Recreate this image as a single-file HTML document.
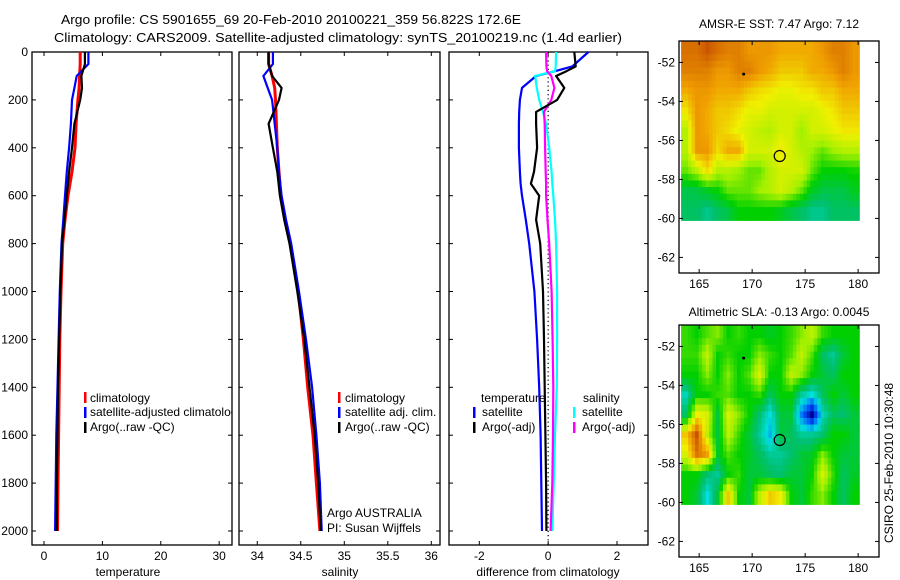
<!DOCTYPE html>
<html><head><meta charset="utf-8">
<style>
html,body{margin:0;padding:0;background:#fff;}
svg{display:block;font-family:"Liberation Sans",sans-serif;}
</style></head>
<body>
<svg id="fig" width="900" height="580" viewBox="0 0 900 580">
<defs><clipPath id="clipT"><rect x="32" y="0" width="200" height="580"/></clipPath></defs>
<text x="61" y="24" font-size="13" textLength="460" lengthAdjust="spacingAndGlyphs">Argo profile: CS 5901655_69 20-Feb-2010 20100221_359 56.822S 172.6E</text>
<text x="54" y="42" font-size="13" textLength="568" lengthAdjust="spacingAndGlyphs">Climatology: CARS2009. Satellite-adjusted climatology: synTS_20100219.nc (1.4d earlier)</text>
<g id="panels"></g>
<text x="779" y="28" text-anchor="middle" font-size="12">AMSR-E SST: 7.47 Argo: 7.12</text>
<text x="779" y="316" text-anchor="middle" font-size="12">Altimetric SLA: -0.13 Argo: 0.0045</text>
<text transform="translate(893,463) rotate(-90)" text-anchor="middle" font-size="12">CSIRO 25-Feb-2010 10:30:48</text>
</svg>
<script>
// ---- profile data ----
const depths = [0,50,100,150,200,300,400,500,600,700,800,1000,1200,1400,1600,1800,2000];
const tempClim = [6.2,6.2,6.1,6.0,5.8,5.5,5.3,4.8,4.1,3.6,3.2,2.9,2.7,2.6,2.5,2.4,2.3];
const tempArgo = [7.0,7.0,6.4,6.5,6.2,5.2,4.8,4.3,3.9,3.5,3.1,2.8,2.6,2.4,2.3,2.2,2.2];
const tempSat = [7.6,7.6,5.6,5.2,4.8,4.6,4.3,3.9,3.6,3.3,3.0,2.7,2.5,2.3,2.1,2.0,1.9];
const salClim = [34.13,34.13,34.17,34.20,34.21,34.22,34.23,34.25,34.27,34.32,34.38,34.47,34.53,34.58,34.64,34.68,34.72];
const salSat = [34.18,34.18,34.07,34.12,34.17,34.20,34.23,34.25,34.28,34.33,34.39,34.48,34.56,34.63,34.68,34.72,34.74];
const salArgo = [34.13,34.13,34.17,34.28,34.25,34.13,34.18,34.23,34.26,34.31,34.37,34.46,34.54,34.60,34.66,34.70,34.73];
const diffDepths = [0,60,80,100,150,200,250,300,400,500,550,600,700,800,1000,1200,1400,1600,1800,2000];
const diffTempSat = [1.17,0.7,0.2,-0.35,-0.76,-0.82,-0.84,-0.85,-0.85,-0.82,-0.8,-0.76,-0.65,-0.55,-0.4,-0.32,-0.26,-0.22,-0.2,-0.18];
const diffTempArgo = [0.76,0.8,0.53,0.23,0.47,0.26,-0.35,-0.35,-0.32,-0.41,-0.5,-0.26,-0.35,-0.23,-0.15,-0.12,-0.1,-0.08,-0.06,-0.05];
const diffSalSat = [0.23,0.22,0.2,-0.38,-0.33,-0.26,-0.15,-0.06,0.03,0.1,0.12,0.15,0.2,0.23,0.26,0.26,0.25,0.2,0.16,0.12];
const diffSalArgo = [-0.06,-0.05,-0.03,0.09,0.18,0.09,-0.12,-0.1,-0.09,-0.07,-0.06,-0.06,-0.02,0.03,0.1,0.13,0.15,0.14,0.12,0.07];
const depthTicks = [0,200,400,600,800,1000,1200,1400,1600,1800,2000];
const tempTicks = [0,10,20,30];
const salTicks = ["34","34.5","35","35.5","36"];
const diffTicks = [-2,0,2];
// ---- map data (rows lat -51..-60, cols lon 163.3..180.1) ----
const sstGrid = [
[8.5,8.5,8.8,8.5,8.3,8.3,8.0,8.0,8.0,7.8,7.8,7.8,7.8,8.0,8.3,8.3,8.0],
[8.3,8.3,8.3,8.0,8.0,8.3,8.3,8.0,7.8,7.5,7.5,7.5,7.8,7.8,8.0,8.3,8.0],
[7.8,8.0,8.0,7.8,7.8,7.8,7.5,7.3,7.2,7.0,7.0,7.2,7.2,7.5,7.5,7.8,7.8],
[7.2,8.0,7.8,7.5,7.5,7.3,7.0,7.0,6.8,6.8,6.8,6.8,6.8,7.0,7.2,7.5,7.5],
[6.5,8.0,7.8,7.5,7.3,7.0,6.8,6.6,6.5,6.8,6.8,6.3,6.8,6.8,7.0,7.2,7.2],
[6.5,8.0,8.0,7.3,7.8,7.8,6.8,6.8,6.8,7.2,6.8,6.5,6.3,6.0,6.3,6.5,6.5],
[6.0,6.5,7.3,6.5,6.5,6.3,6.0,6.0,6.5,6.8,6.8,6.8,6.0,5.5,5.5,5.5,5.6],
[5.0,5.0,5.3,5.5,6.0,6.0,6.0,6.3,6.5,6.8,6.5,6.0,5.3,5.0,5.0,5.0,5.3],
[4.8,4.8,4.5,4.8,5.0,5.5,5.5,5.5,5.5,5.3,5.0,4.8,4.5,4.5,4.8,4.8,4.8]];
const slaGrid = [
[0.02,0,0.03,0.05,0,0.02,0,0,-0.02,0,0.02,0.05,0.08,0.02,0,0,0],
[0.02,0.02,0.08,0,0.02,0,0,0.05,0.02,0,0.03,0.08,0.03,-0.05,-0.08,-0.03,0],
[0,0,0.05,0,0.05,0,0.03,0.1,0,0,0.08,0.05,0,-0.03,-0.05,0,0],
[-0.1,0,0,0.02,0.03,0,0,0.02,-0.05,0,0,-0.08,-0.12,-0.05,0,-0.03,0],
[-0.05,0.12,0.1,-0.03,0.1,0.05,0,-0.06,-0.12,-0.03,-0.03,-0.18,-0.3,-0.1,-0.05,-0.06,-0.03],
[0.15,0.25,0.08,-0.03,0.08,0.02,-0.03,-0.08,-0.15,-0.03,-0.05,-0.08,-0.08,-0.06,0,0,-0.03],
[0.1,0.22,0.18,-0.02,0.03,0,-0.02,-0.05,-0.08,-0.08,-0.06,-0.03,-0.02,0.05,0,-0.03,-0.03],
[0,0,-0.06,-0.08,0,0.02,-0.03,-0.03,-0.05,-0.06,-0.03,-0.03,0,0.1,0.02,-0.05,-0.02],
[0,-0.03,-0.12,-0.03,0.15,0,-0.03,0.08,0.15,0.12,0,-0.03,0.02,0.05,0,-0.05,0]];
const lonTicks = [165,170,175,180];
const latTicks = [-52,-54,-56,-58,-60,-62];
const argoLon = 172.6, argoLat = -56.8;

const NS='http://www.w3.org/2000/svg';
const root=document.getElementById('panels');
function mk(tag,attrs,parent){const e=document.createElementNS(NS,tag);for(const k in attrs)e.setAttribute(k,attrs[k]);(parent||root).appendChild(e);return e;}

const PT=52, PB=545;
const yDepth = d => 52 + d*0.2395;

function panel(x0,x1,xmin,xmax,name){
  const sx = v => x0 + (v-xmin)/(xmax-xmin)*(x1-x0);
  const g=mk('g',{});
  
  
  const r=mk('rect',{x:x0,y:PT,width:x1-x0,height:PB-PT,fill:'none',stroke:'#000','stroke-width':1.3},g);
  
  
  depthTicks.forEach(d=>{const y=yDepth(d);
    mk('line',{x1:x0,x2:x0+4,y1:y,y2:y,stroke:'#000'},g);
    mk('line',{x1:x1,x2:x1-4,y1:y,y2:y,stroke:'#000'},g);});
  return {sx,g};
}
function series(p,xs,ds,color,w,name){
  const pts=xs.map((v,i)=>p.sx(v).toFixed(1)+','+yDepth(ds[i]).toFixed(1)).join(' ');
  const l=mk('polyline',{points:pts,fill:'none',stroke:color,'stroke-width':w,'stroke-linejoin':'round'},p.g);
  
  
}
function xticks(p,ticks){
  ticks.forEach(t=>{const x=p.sx(+t);
    mk('line',{x1:x,x2:x,y1:PB,y2:PB-4,stroke:'#000'},p.g);
    mk('line',{x1:x,x2:x,y1:PT,y2:PT+4,stroke:'#000'},p.g);
    const tx=mk('text',{x:x,y:560,'text-anchor':'middle','font-size':12},p.g);tx.textContent=t;
    
    
  });
}
function label(txt,x,y,name,anchor){const t=mk('text',{x:x,y:y,'font-size':12,'text-anchor':anchor||'start'});t.textContent=txt;
  
  return t;}
function legendMark(x,y,color){mk('rect',{x:x,y:y-10,width:2.5,height:11,fill:color});}

// Temperature panel
const pT=panel(32,232,-2.06,32.2,'temperature-panel');
xticks(pT,tempTicks);
depthTicks.forEach(d=>{const t=mk('text',{x:28,y:yDepth(d)+4,'text-anchor':'end','font-size':12});t.textContent=d;
  
  });
series(pT,tempClim,depths,'#f00',3,'temp-climatology-line');
series(pT,tempSat,depths,'#00f',2.2,'temp-satellite-line');
series(pT,tempArgo,depths,'#000',2.2,'temp-argo-line');
label('temperature',128,576,'temperature-axis-title','middle');
legendMark(84,402,'#f00');label('climatology',90,402,'legend-climatology');
legendMark(84,417,'#00f');label('satellite-adjusted climatology',90,416,'legend-satellite-adjusted').setAttribute('clip-path','url(#clipT)');
legendMark(84,432,'#000');label('Argo(..raw -QC)',90,431,'legend-argo-raw');

// Salinity panel
const pS=panel(239,440,33.79,36.1,'salinity-panel');
xticks(pS,salTicks);
series(pS,salClim,depths,'#f00',3,'sal-climatology-line');
series(pS,salSat,depths,'#00f',2.2,'sal-satellite-line');
series(pS,salArgo,depths,'#000',2.2,'sal-argo-line');
label('salinity',340,576,'salinity-axis-title','middle');
legendMark(338,402,'#f00');label('climatology',345,402,'sal-legend-climatology');
legendMark(338,417,'#00f');label('satellite adj. clim.',345,416,'sal-legend-satellite');
legendMark(338,432,'#000');label('Argo(..raw -QC)',345,431,'sal-legend-argo');
label('Argo AUSTRALIA',327,517,'argo-australia-label');
label('PI: Susan Wijffels',327,532,'pi-label');

// Difference panel
const pD=panel(449,648,-2.88,2.9,'difference-panel');
xticks(pD,diffTicks);
mk('line',{x1:pD.sx(0),x2:pD.sx(0),y1:PT,y2:PB,stroke:'#000','stroke-dasharray':'1.2,3','stroke-width':1.2},pD.g);
series(pD,diffTempSat,diffDepths,'#00f',2.2,'diff-temp-satellite-line');
series(pD,diffSalSat,diffDepths,'#0ff',2.2,'diff-sal-satellite-line');
series(pD,diffSalArgo,diffDepths,'#f0f',2.2,'diff-sal-argo-line');
series(pD,diffTempArgo,diffDepths,'#000',2.2,'diff-temp-argo-line');
label('difference from climatology',548,576,'difference-axis-title','middle');
label('temperature',481,402,'diff-legend-temperature-header');
legendMark(473,417,'#00f');label('satellite',482,416,'diff-legend-temp-satellite');
legendMark(473,432,'#000');label('Argo(-adj)',482,431,'diff-legend-temp-argo');
label('salinity',583,402,'diff-legend-salinity-header');
legendMark(573,417,'#0ff');label('satellite',582,416,'diff-legend-sal-satellite');
legendMark(573,432,'#f0f');label('Argo(-adj)',582,431,'diff-legend-sal-argo');

// ---- maps ----
const stops=[[0,[0,0,143]],[0.15,[0,80,255]],[0.3,[0,224,224]],[0.4,[0,192,112]],[0.5,[0,208,0]],[0.6,[160,240,0]],[0.7,[240,240,0]],[0.8,[240,160,0]],[0.9,[208,96,0]],[1,[160,0,0]]];
function cmap(t){t=Math.max(0,Math.min(1,t));for(let i=1;i<stops.length;i++){if(t<=stops[i][0]){const a=stops[i-1],b=stops[i];const f=(t-a[0])/(b[0]-a[0]);const c=a[1].map((v,k)=>Math.round(v+(b[1][k]-v)*f));return 'rgb('+c.join(',')+')';}}return 'rgb(160,0,0)';}
function sample(grid,r,c){
  const nr=grid.length,nc=grid[0].length;
  r=Math.max(0,Math.min(nr-1,r));c=Math.max(0,Math.min(nc-1,c));
  const r0=Math.floor(r),c0=Math.floor(c),r1=Math.min(nr-1,r0+1),c1=Math.min(nc-1,c0+1);
  const fr=r-r0,fc=c-c0;
  return grid[r0][c0]*(1-fr)*(1-fc)+grid[r0][c1]*(1-fr)*fc+grid[r1][c0]*fr*(1-fc)+grid[r1][c1]*fr*fc;
}
function map(top,bottom,grid,vmin,vmax,name){
  const L=679,R=879;
  const sx=lon=>L+(lon-163.1)*10.6;
  const sy=lat=>top+(-50.9-lat)*((bottom-top)/11.9);
  const g=mk('g',{});
  
  
  const lon0=163.3,lon1=180.1,lat0=-50.9,lat1=-60.1;
  const nr=grid.length,nc=grid[0].length,S=3;
  for(let i=0;i<nr*S;i++)for(let j=0;j<nc*S;j++){
    const v=sample(grid,(i+0.5)/S-0.5,(j+0.5)/S-0.5);
    const xa=sx(lon0+(lon1-lon0)*j/(nc*S)), xb=sx(lon0+(lon1-lon0)*(j+1)/(nc*S));
    const ya=sy(lat0+(lat1-lat0)*i/(nr*S)), yb=sy(lat0+(lat1-lat0)*(i+1)/(nr*S));
    const c=mk('rect',{x:xa.toFixed(1),y:ya.toFixed(1),width:(xb-xa+0.6).toFixed(1),height:(yb-ya+0.6).toFixed(1),fill:cmap((v-vmin)/(vmax-vmin))},g);
    
    
  }
  mk('rect',{x:L,y:top,width:R-L,height:bottom-top,fill:'none',stroke:'#000','stroke-width':1.3},g);
  lonTicks.forEach(t=>{const x=sx(t);mk('line',{x1:x,x2:x,y1:bottom,y2:bottom-4,stroke:'#000'},g);mk('line',{x1:x,x2:x,y1:top,y2:top+4,stroke:'#000'},g);
    const tx=mk('text',{x:x,y:bottom+15,'text-anchor':'middle','font-size':12},g);tx.textContent=t;
    
    });
  latTicks.forEach(t=>{const y=sy(t);mk('line',{x1:L,x2:L+4,y1:y,y2:y,stroke:'#000'},g);mk('line',{x1:R,x2:R-4,y1:y,y2:y,stroke:'#000'},g);
    const tx=mk('text',{x:L-4,y:y+4,'text-anchor':'end','font-size':12},g);tx.textContent=t;
    
    });
  const c=mk('circle',{cx:sx(argoLon),cy:sy(argoLat),r:5.5,fill:'none',stroke:'#000','stroke-width':1.2},g);
  
  
  mk('circle',{cx:sx(169.2),cy:sy(-52.6),r:1.5,fill:'#000'},g);
}
map(41,273,sstGrid,1.5,9.5,'sst-map');
map(325,557,slaGrid,-0.3,0.3,'sla-map');
</script>
</body></html>
